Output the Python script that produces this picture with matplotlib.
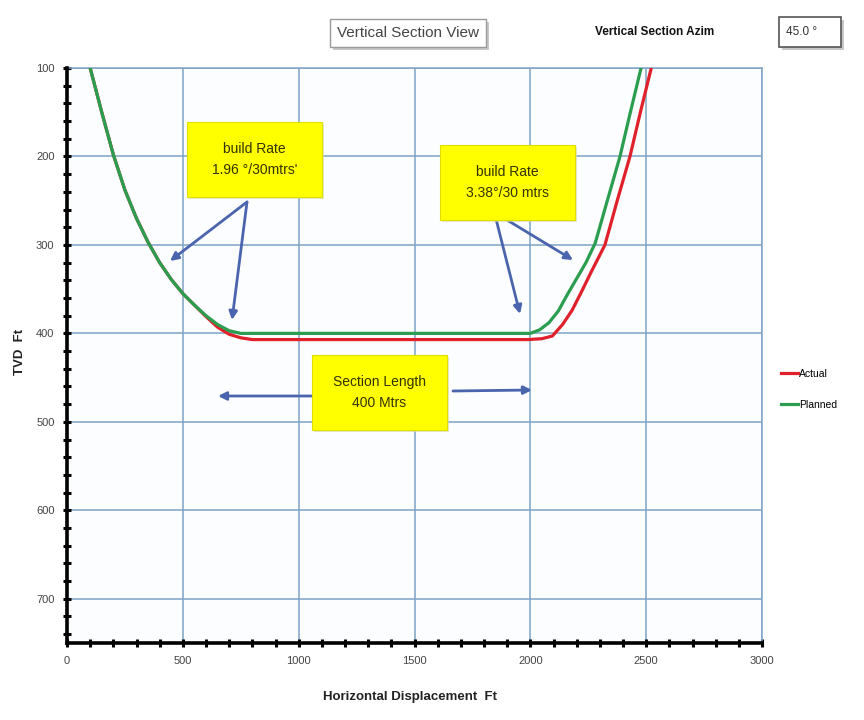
import matplotlib
matplotlib.use("Agg")
import matplotlib.pyplot as plt
from matplotlib.patches import Rectangle
from matplotlib.ticker import MultipleLocator

plt.rcParams['font.family'] = ['Liberation Sans Narrow', 'Liberation Sans', 'DejaVu Sans']

# ---------------- data ----------------
planned_x = [100, 150, 200, 250, 300, 350, 400, 450, 500, 550, 600, 650, 700, 750,
             1000, 1500, 2000, 2040, 2080, 2120, 2160, 2200, 2240, 2280, 2330, 2387, 2430, 2478]
planned_tvd = [100, 150, 198, 238, 270, 297, 320, 339, 355, 368, 380, 390, 397, 400,
               400, 400, 400, 396, 388, 375, 356, 338, 320, 298, 252, 200, 152, 100]

actual_x = [100, 150, 200, 250, 300, 350, 400, 450, 500, 550, 600, 650, 700, 750, 800,
            1000, 1500, 1990, 2050, 2095, 2139, 2180, 2217, 2260, 2322, 2375, 2430, 2475, 2522]
actual_tvd = [100, 150, 198, 238, 270, 297, 320, 339, 355, 368, 381, 393, 401, 405, 407,
              407, 407, 407, 406, 403, 390, 374, 355, 332, 300, 250, 200, 150, 100]

x_ticks = [0, 500, 1000, 1500, 2000, 2500, 3000]
y_ticks = [100, 200, 300, 400, 500, 600, 700]

series_names = ["Actual", "Planned"]
series_colors = ["#e0202a", "#2a9d4e"]

title_text = "Vertical Section View"
azim_label = "Vertical Section Azim"
azim_value = "45.0 °"
x_label = "Horizontal Displacement  Ft"
y_label = "TVD  Ft"

notes = ["build Rate\n1.96 °/30mtrs'", "build Rate\n3.38°/30 mtrs", "Section Length\n400 Mtrs"]

# ---------------- figure ----------------
W, H = 864, 720
fig = plt.figure(figsize=(W / 100, H / 100), dpi=100)
fig.patch.set_facecolor("white")

def fx(px):
    return px / W

def fy(py):
    return 1 - py / H

ax_l, ax_r, ax_t, ax_b = 67, 762, 68, 643
ax = fig.add_axes([fx(ax_l), fy(ax_b), fx(ax_r - ax_l), (ax_b - ax_t) / H])
ax.set_facecolor("#fbfdff")

grid_col = "#7fa3c6"
ax.plot(actual_x, actual_tvd, color=series_colors[0], lw=2.3, label=series_names[0],
        zorder=3, solid_joinstyle="round")
ax.plot(planned_x, planned_tvd, color=series_colors[1], lw=2.3, label=series_names[1],
        zorder=4, solid_joinstyle="round")

ax.set_xlim(0, 3000)
ax.set_ylim(750, 100)
ax.set_xticks(x_ticks)
ax.set_yticks(y_ticks)
ax.xaxis.set_minor_locator(MultipleLocator(100))
ax.yaxis.set_minor_locator(MultipleLocator(20))
ax.grid(True, which="major", color=grid_col, lw=1.1, zorder=1)

for s in ["left", "bottom"]:
    ax.spines[s].set_color("black")
    ax.spines[s].set_linewidth(2.6)
    ax.spines[s].set_zorder(5)
for s in ["top", "right"]:
    ax.spines[s].set_color(grid_col)
    ax.spines[s].set_linewidth(1.1)

ax.tick_params(which="both", direction="inout", color="black", width=2.2, length=6,
               labelsize=8, labelcolor="#444444", top=False, right=False)
ax.tick_params(which="major", pad=6)

fig.text(fx(410), fy(697), x_label, ha="center", va="center", fontsize=9.5,
         fontweight="bold", color="#222222")
fig.text(fx(20), fy(352), y_label, ha="center", va="center", rotation=90, fontsize=9.5,
         fontweight="bold", color="#222222")

# ---------------- header boxes ----------------
def fig_box(x0, y0, x1, y1, face="white", edge="#9a9a9a", shadow=True, lw=1.0):
    if shadow:
        fig.add_artist(Rectangle((fx(x0 + 3), fy(y1 + 3)), fx(x1 - x0), (y1 - y0) / H,
                                 transform=fig.transFigure, facecolor="#c8c8c8",
                                 edgecolor="none", zorder=1))
    fig.add_artist(Rectangle((fx(x0), fy(y1)), fx(x1 - x0), (y1 - y0) / H,
                             transform=fig.transFigure, facecolor=face,
                             edgecolor=edge, lw=lw, zorder=2))

fig_box(330, 19, 486, 47)
fig.text(fx(408), fy(33), title_text, ha="center", va="center", fontsize=11,
         color="#444444", zorder=3)

fig.text(fx(655), fy(32), azim_label, ha="center", va="center", fontsize=8.5,
         fontweight="bold", color="#111111")
fig_box(779, 17, 841, 47, edge="#555555", shadow=True, lw=1.2)
fig.text(fx(786), fy(32), azim_value, ha="left", va="center", fontsize=8.5,
         color="#333333", zorder=3)

# ---------------- legend ----------------
fig.legend(handles=ax.get_lines(), labels=series_names, loc="upper left",
           bbox_to_anchor=(fx(781), fy(369)), frameon=False, fontsize=7.5,
           handlelength=1.6, handletextpad=0.1, labelspacing=2.0,
           borderpad=0, borderaxespad=0)

# ---------------- yellow annotation boxes ----------------
def px2data(px, py):
    x = (px - ax_l) / (ax_r - ax_l) * 3000
    y = 100 + (py - ax_t) / (ax_b - ax_t) * 650
    return x, y

note_boxes = [(187, 122, 322, 197), (440, 145, 575, 220), (312, 355, 447, 430)]
for (x0, y0, x1, y1), txt in zip(note_boxes, notes):
    fig.add_artist(Rectangle((fx(x0 + 2), fy(y1 + 2)), fx(x1 - x0), (y1 - y0) / H,
                             transform=fig.transFigure, facecolor="#d9d9a0",
                             edgecolor="none", zorder=6, alpha=0.6))
    fig.add_artist(Rectangle((fx(x0), fy(y1)), fx(x1 - x0), (y1 - y0) / H,
                             transform=fig.transFigure, facecolor="#ffff00",
                             edgecolor="#e0e000", lw=0.8, zorder=7))
    fig.text(fx((x0 + x1) / 2), fy((y0 + y1) / 2), txt, ha="center", va="center",
             fontsize=10, color="#333300", linespacing=1.7, zorder=8)

arrow_col = "#4a64ad"
arrows = [((247, 202), (170, 261)), ((247, 202), (232, 320)),
          ((495, 215), (520, 314)), ((507, 220), (573, 260)),
          ((313, 396), (218, 396)), ((453, 391), (532, 390))]
for (sx, sy), (ex, ey) in arrows:
    ax.annotate("", xy=px2data(ex, ey), xytext=px2data(sx, sy),
                arrowprops=dict(arrowstyle="-|>", color=arrow_col, lw=2.0,
                                mutation_scale=12, shrinkA=0, shrinkB=0),
                zorder=6)

fig.savefig("out.png", dpi=100)
